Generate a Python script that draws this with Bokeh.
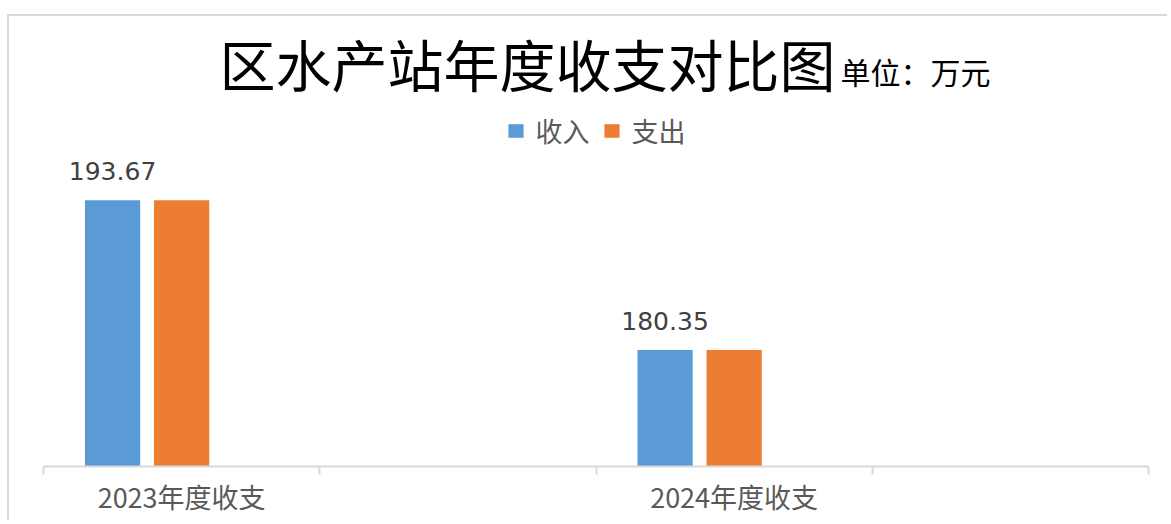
import math
from bokeh.plotting import figure
from bokeh.models import (Range1d, FixedTicker, ColumnDataSource, LabelSet, Label,
                          Legend, LegendItem)
from bokeh.transform import dodge
from bokeh.core.properties import value
from bokeh.embed import file_html
from bokeh.resources import INLINE

# ---- data ----
categories = ["2023年度收支", "", "2024年度收支", ""]
income = [193.67, math.nan, 180.35, math.nan]    # 收入
expense = [193.67, math.nan, 180.35, math.nan]   # 支出
series_names = ["收入", "支出"]
series_colors = ["#5B9BD5", "#ED7D31"]
title_text = "区水产站年度收支对比图"
unit_text = "单位：万元"
axis_min, axis_max = 170, 210

CJK = "'Noto Sans CJK SC', 'Noto Sans', sans-serif"

centers = [i + 0.5 for i in range(len(categories))]
rows = [i for i in range(len(categories)) if not math.isnan(income[i])]
src = ColumnDataSource(dict(
    xc=[centers[i] for i in rows],
    income=[income[i] for i in rows],
    expense=[expense[i] for i in rows],
    label=[f"{income[i]:.2f}" for i in rows],
))

# figure placed at (7,14) on the page with a light border on top/left (chart-area frame)
p = figure(width=1160, height=506, output_backend="svg", toolbar_location=None,
           x_range=Range1d(0, len(categories)), y_range=Range1d(axis_min, axis_max),
           min_border_left=34, min_border_right=21, min_border_top=0, min_border_bottom=56,
           y_axis_location=None)
p.margin = (14, 0, 0, 7)
p.styles = {"border-top": "2px solid #D9D9D9", "border-left": "2px solid #D9D9D9"}
p.outline_line_color = None
p.xgrid.visible = False
p.ygrid.visible = False
p.background_fill_color = "white"
p.border_fill_color = "white"

bar_w = 0.2
r1 = p.vbar(x=dodge("xc", -0.25, range=p.x_range), top="income", bottom=axis_min, width=bar_w,
            source=src, fill_color=series_colors[0], line_color=None)
r2 = p.vbar(x=dodge("xc", 0.0, range=p.x_range), top="expense", bottom=axis_min, width=bar_w,
            source=src, fill_color=series_colors[1], line_color=None)

labels = LabelSet(x=dodge("xc", -0.25, range=p.x_range), y="income", text="label", source=src,
                  y_offset=29, text_align="center", text_baseline="middle",
                  text_font=value("DejaVu Sans"), text_font_size=value("25px"),
                  text_color="#404040")
p.add_layout(labels)

ax = p.xaxis[0]
ax.ticker = FixedTicker(ticks=centers, minor_ticks=list(range(len(categories) + 1)))
ax.major_label_overrides = {c: lab for c, lab in zip(centers, categories)}
ax.major_tick_out = 0
ax.major_tick_in = 0
ax.minor_tick_out = 8
ax.minor_tick_in = 0
ax.minor_tick_line_color = "#D9D9D9"
ax.minor_tick_line_width = 2
ax.axis_line_color = "#D9D9D9"
ax.axis_line_width = 2
ax.major_label_text_font = CJK
ax.major_label_text_font_size = "27px"
ax.major_label_text_color = "#595959"
ax.major_label_standoff = 2

legend = Legend(items=[LegendItem(label=series_names[0], renderers=[r1]),
                       LegendItem(label=series_names[1], renderers=[r2])],
                orientation="horizontal", location="top_center",
                border_line_alpha=0, background_fill_alpha=0,
                label_text_font=CJK, label_text_font_size="27px", label_text_color="#595959",
                glyph_width=19, glyph_height=17, label_standoff=11, spacing=12,
                padding=0, margin=95)
p.add_layout(legend)

# screen offsets relative to the plot frame (left edge / bottom edge)
p.add_layout(Label(x=835 - 43, y=466 - 62, x_units="screen", y_units="screen",
                   text=title_text, text_align="right", text_baseline="middle",
                   text_font=CJK, text_font_size="56px", text_color="black"))
p.add_layout(Label(x=840 - 43, y=466 - 70, x_units="screen", y_units="screen",
                   text=unit_text, text_align="left", text_baseline="middle",
                   text_font=CJK, text_font_size="30px", text_color="black"))

open("out.html", "w").write(file_html(p, INLINE))
